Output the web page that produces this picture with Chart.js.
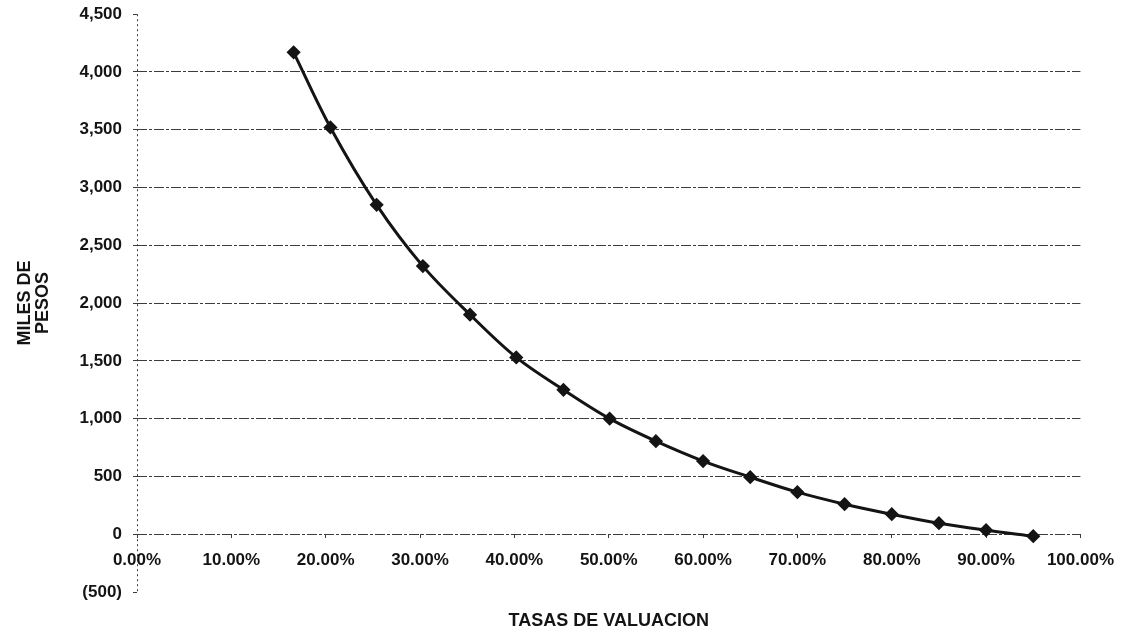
<!DOCTYPE html>
<html>
<head>
<meta charset="utf-8">
<title>Valor presente neto</title>
<script src="https://cdn.jsdelivr.net/npm/chart.js@4/dist/chart.umd.min.js"></script>
<style>
  html, body { margin: 0; padding: 0; background: #fff; }
  #wrap { width: 1126px; height: 635px; }
</style>
</head>
<body>
<div id="wrap"><canvas id="vpnChart" width="1126" height="635"></canvas></div>
<script>
// Tasas de valuacion (fraccion) y valor en miles de pesos
const tasas = [0.166, 0.205, 0.254, 0.303, 0.353, 0.402, 0.452, 0.501, 0.55, 0.60, 0.65, 0.70, 0.75, 0.80, 0.85, 0.90, 0.95];
const valores = [4170, 3520, 2850, 2320, 1900, 1530, 1250, 1000, 805, 633, 494, 364, 260, 173, 95, 35, -17];

const yMin = -500;
const yMax = 4500;
const yStep = 500;
const xStep = 0.1;

const ink = '#141414';
const gridInk = '#3c3c3c';
const tickFont = { family: '"Liberation Sans", Arial, sans-serif', size: 17, weight: 'bold' };
const titleFont = { family: '"Liberation Sans", Arial, sans-serif', size: 18, weight: 'bold', lineHeight: 1 };

function fmtMiles(v) {
  const s = Math.abs(v).toLocaleString('en-US');
  return v < 0 ? '(' + s + ')' : s;
}

document.addEventListener('DOMContentLoaded', function () {
  const ctx = document.getElementById('vpnChart').getContext('2d');

  new Chart(ctx, {
    type: 'line',
    data: {
      datasets: [{
        data: tasas.map((t, i) => ({ x: t, y: valores[i] })),
        borderColor: ink,
        borderWidth: 3,
        tension: 0.35,
        pointStyle: 'rectRot',
        pointRadius: 5,
        pointBackgroundColor: ink,
        pointBorderColor: ink,
        fill: false
      }]
    },
    options: {
      responsive: false,
      animation: false,
      layout: { padding: { top: 8, right: 43, bottom: 0, left: 0 } },
      plugins: { legend: { display: false }, tooltip: { enabled: false } },
      scales: {
        x: {
          type: 'linear',
          position: { y: 0 },
          min: 0,
          max: 1,
          ticks: {
            stepSize: xStep,
            color: ink,
            font: tickFont,
            padding: 12,
            maxRotation: 0,
            callback: (v) => (v * 100).toFixed(2) + '%'
          },
          // only the 0% line is drawn: it is the dotted value axis
          grid: {
            drawOnChartArea: true,
            drawTicks: true,
            tickLength: 4,
            color: (c) => (c.tick && c.tick.value === 0 ? gridInk : 'rgba(0,0,0,0)'),
            tickColor: gridInk
          },
          border: { display: false, dash: [2, 3] }
        },
        xTitle: {
          type: 'linear',
          position: 'bottom',
          min: 0,
          max: 1,
          ticks: { display: false },
          grid: { display: false, drawTicks: false },
          border: { display: false },
          title: {
            display: true,
            text: 'TASAS DE VALUACION',
            color: ink,
            font: titleFont,
            padding: { top: 20, bottom: 5 }
          }
        },
        y: {
          min: yMin,
          max: yMax,
          ticks: {
            stepSize: yStep,
            color: ink,
            font: tickFont,
            padding: 4,
            callback: (v) => fmtMiles(v)
          },
          grid: {
            drawTicks: true,
            tickLength: 11,
            color: (c) => (c.tick && (c.tick.value === yMax || c.tick.value === yMin) ? 'rgba(0,0,0,0)' : gridInk),
            tickColor: gridInk,
            // short tick next to the axis, blank space before the label
            tickBorderDash: [0, 7, 4, 100]
          },
          border: { display: false, dash: [10, 2, 3, 2] },
          title: {
            display: true,
            text: ['MILES DE', 'PESOS'],
            color: ink,
            font: titleFont,
            padding: { top: 16, bottom: 0 }
          },
          afterFit: function (scale) { scale.width = 137; }
        }
      }
    }
  });
});
</script>
</body>
</html>
